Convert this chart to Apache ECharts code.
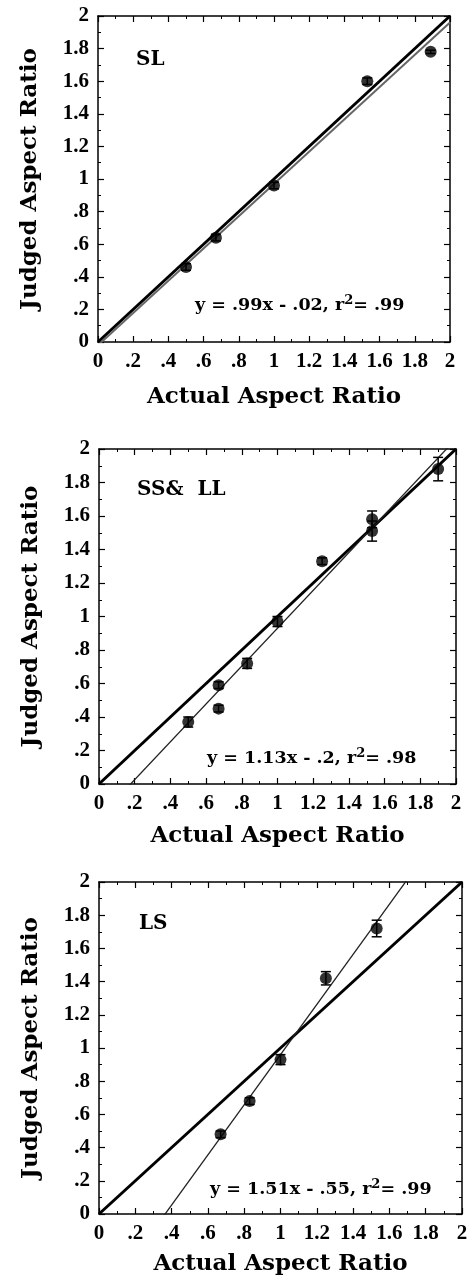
<!DOCTYPE html>
<html>
<head>
    <meta charset="utf-8">
    <title>Aspect Ratio</title>
    <script type="text/javascript" src="https://cdn.jsdelivr.net/npm/echarts@6/dist/echarts.min.js"></script>
    <style>
        html, body { margin: 0; padding: 0; background: #fff; }
    </style>
</head>
<body>
    <div id="main" style="width: 471px;height:1283px;"></div>

    <script type="text/javascript">
        // 数据: 三个面板 (SL, SS&LL, LS)
        var tickValues = [0, 0.2, 0.4, 0.6, 0.8, 1, 1.2, 1.4, 1.6, 1.8, 2];
        var tickLabels = ['0', '.2', '.4', '.6', '.8', '1', '1.2', '1.4', '1.6', '1.8', '2'];

        var slX = [0.5, 0.67, 1.0, 1.53, 1.89];
        var slY = [0.46, 0.64, 0.96, 1.60, 1.78];
        var slErr = [0.02, 0.02, 0.02, 0.02, 0.01];

        var ssX = [0.5, 0.67, 0.67, 0.83, 1.0, 1.25, 1.53, 1.53, 1.9];
        var ssY = [0.37, 0.59, 0.45, 0.72, 0.97, 1.33, 1.58, 1.51, 1.88];
        var ssErr = [0.03, 0.02, 0.02, 0.03, 0.03, 0.02, 0.05, 0.06, 0.07];

        var lsX = [0.67, 0.83, 1.0, 1.25, 1.53];
        var lsY = [0.48, 0.68, 0.93, 1.42, 1.72];
        var lsErr = [0.02, 0.02, 0.03, 0.04, 0.05];

        // 回归线 斜率/截距
        var fits = [[0.99, -0.02], [1.13, -0.2], [1.51, -0.55]];
        var panelNames = ['SL', 'SS&  LL', 'LS'];
        var eqTexts = [
            'y = .99x - .02, r{s|2}= .99',
            'y = 1.13x - .2, r{s|2}= .98',
            'y = 1.51x - .55, r{s|2}= .99'
        ];

        var serif = '"Liberation Serif", "DejaVu Serif", serif';
        var wide = '"DejaVu Serif", serif';
        var grids = [
            { left: 98, top: 16, width: 352, height: 326 },
            { left: 99, top: 449, width: 357, height: 335 },
            { left: 99, top: 882, width: 363, height: 332 }
        ];
        var xNameGaps = [44, 41, 39];

        function fmt(v) {
            var i = tickValues.indexOf(Math.round(v * 10) / 10);
            return i >= 0 ? tickLabels[i] : '';
        }

        function errRender(params, api) {
            var x = api.value(0), lo = api.value(1), hi = api.value(2);
            var p1 = api.coord([x, lo]), p2 = api.coord([x, hi]);
            var w = 5;
            var st = { stroke: '#000', lineWidth: 1.5 };
            return {
                type: 'group',
                children: [
                    { type: 'line', shape: { x1: p1[0], y1: p1[1], x2: p2[0], y2: p2[1] }, style: st },
                    { type: 'line', shape: { x1: p1[0] - w, y1: p1[1], x2: p1[0] + w, y2: p1[1] }, style: st },
                    { type: 'line', shape: { x1: p2[0] - w, y1: p2[1], x2: p2[0] + w, y2: p2[1] }, style: st }
                ]
            };
        }

        function makeAxis(g, pos, extra) {
            var ax = {
                gridIndex: g,
                type: 'value',
                position: pos,
                min: 0, max: 2, interval: 0.2,
                axisLine: { show: true, onZero: false, lineStyle: { color: '#000', width: 1.5 } },
                axisTick: { show: true, inside: true, length: 6, lineStyle: { color: '#000', width: 1.2 } },
                minorTick: { show: true, splitNumber: 2, length: 3, lineStyle: { color: '#000', width: 1 } },
                splitLine: { show: false },
                axisLabel: {
                    show: pos === 'bottom' || pos === 'left', formatter: fmt, color: '#000',
                    fontFamily: serif, fontSize: 21, fontWeight: 'bold', margin: 9
                }
            };
            for (var k in extra) ax[k] = extra[k];
            return ax;
        }

        var nameStyle = { fontFamily: wide, fontSize: 23, fontWeight: 'bold', color: '#000' };
        var xAxes = [], yAxes = [], series = [];
        var panels = [[slX, slY, slErr], [ssX, ssY, ssErr], [lsX, lsY, lsErr]];

        for (var g = 0; g < 3; g++) {
            xAxes.push(makeAxis(g, 'bottom', {
                name: 'Actual Aspect Ratio', nameLocation: 'middle', nameGap: xNameGaps[g], nameTextStyle: nameStyle
            }));
            xAxes.push(makeAxis(g, 'top', {}));
            yAxes.push(makeAxis(g, 'left', {
                name: 'Judged Aspect Ratio', nameLocation: 'middle', nameGap: 56, nameTextStyle: nameStyle
            }));
            yAxes.push(makeAxis(g, 'right', {}));

            var xs = panels[g][0], ys = panels[g][1], es = panels[g][2];
            var pts = [], errs = [];
            for (var i = 0; i < xs.length; i++) {
                pts.push([xs[i], ys[i]]);
                errs.push([xs[i], ys[i] - es[i], ys[i] + es[i]]);
            }
            var m = fits[g][0], b = fits[g][1];

            // 对角线 y = x
            series.push({
                type: 'line', xAxisIndex: 2 * g, yAxisIndex: 2 * g,
                data: [[0, 0], [2, 2]], symbol: 'none', clip: true, silent: true,
                lineStyle: { color: '#000', width: 3 }, z: 2
            });
            // 回归线
            series.push({
                type: 'line', xAxisIndex: 2 * g, yAxisIndex: 2 * g,
                data: [[0, b], [2, 2 * m + b]], symbol: 'none', clip: true, silent: true,
                lineStyle: { color: g === 0 ? '#666' : '#222', width: g === 0 ? 2 : 1.3 }, z: 3
            });
            series.push({
                type: 'custom', xAxisIndex: 2 * g, yAxisIndex: 2 * g,
                renderItem: errRender, data: errs, encode: { x: 0, y: [1, 2] }, z: 4
            });
            series.push({
                type: 'scatter', xAxisIndex: 2 * g, yAxisIndex: 2 * g,
                data: pts, symbol: 'circle', symbolSize: 12,
                itemStyle: { color: '#000' }, z: 5
            });
        }

        var titles = [
            { text: panelNames[0], left: 136, top: 50 },
            { text: panelNames[1], left: 137, top: 480 },
            { text: panelNames[2], left: 139, top: 914 },
            { text: eqTexts[0], left: 195, top: 294, eq: true },
            { text: eqTexts[1], left: 207, top: 747, eq: true },
            { text: eqTexts[2], left: 210, top: 1178, eq: true }
        ].map(function (t) {
            return {
                text: t.text, left: t.left, top: t.top, padding: 0,
                textStyle: {
                    fontFamily: wide, fontWeight: 'bold', color: '#000',
                    fontSize: t.eq ? 17.5 : 20,
                    rich: {
                        s: { fontFamily: wide, fontWeight: 'bold', fontSize: 13, color: '#000',
                             verticalAlign: 'bottom', padding: [0, 0, 10, 0] }
                    }
                }
            };
        });

        var myChart = echarts.init(document.getElementById('main'));
        myChart.setOption({
            animation: false,
            backgroundColor: '#fff',
            title: titles,
            grid: grids,
            xAxis: xAxes,
            yAxis: yAxes,
            series: series
        });
    </script>
</body>
</html>
